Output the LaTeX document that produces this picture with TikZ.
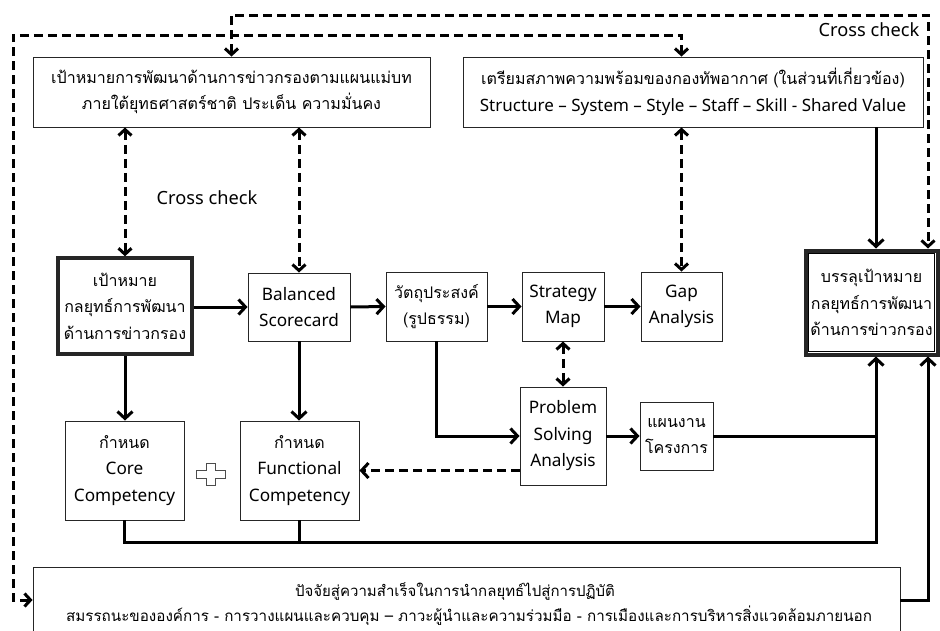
\documentclass[tikz,border=0pt]{standalone}
\usepackage{fontspec}
\setmainfont[Script=Thai]{Loma}
\newfontfamily\lat{Noto Sans}
\usetikzlibrary{arrows.meta,calc}
\begin{document}
\begin{tikzpicture}[x=1pt,y=-1pt,
  txt/.style={font=\fontsize{16}{26.5}\selectfont, align=center},
  ltxt/.style={font=\lat\fontsize{17.2}{26.5}\selectfont},
  box/.style={txt, draw=black!85, line width=0.9pt, inner sep=0pt},
  con/.style={line width=3pt, -{Straight Barb[length=7pt,width=15pt]}},
  plain/.style={line width=3pt},
  dsh/.style={line width=3pt, dash pattern=on 9pt off 5pt},
  dtip/.style={dsh, {Straight Barb[length=6pt,width=13pt]}-{Straight Barb[length=6pt,width=13pt]}}
]
\useasboundingbox (0,0) rectangle (940,630);
\clip (0,0) rectangle (940,630);
\fill[white] (0,0) rectangle (940,630);

% top boxes
\node[box, minimum width=397pt, minimum height=70pt] (tl) at (231.5,92)
  {เป้าหมายการพัฒนาด้านการข่าวกรองตามแผนแม่บท\\ภายใต้ยุทธศาสตร์ชาติ ประเด็น ความมั่นคง};
\node[box, minimum width=460pt, minimum height=70pt] (tr) at (693,92)
  {เตรียมสภาพความพร้อมของกองทัพอากาศ (ในส่วนที่เกี่ยวข้อง)\\{\lat\fontsize{17}{26.5}\selectfont Structure – System – Style – Staff – Skill - Shared Value}};

% middle row
\node[box, line width=3.4pt, minimum width=134pt, minimum height=96pt] (L) at (125,306)
  {เป้าหมาย\\กลยุทธ์การพัฒนา\\ด้านการข่าวกรอง};
\node[box, ltxt, minimum width=102pt, minimum height=68pt] (bsc) at (299,307) {Balanced\\Scorecard};
\node[box, minimum width=101pt, minimum height=69pt] (obj) at (436.5,306.5) {วัตถุประสงค์\\(รูปธรรม)};
\node[box, ltxt, minimum width=82pt, minimum height=69pt] (sm) at (563,306.5) {Strategy\\Map};
\node[box, ltxt, minimum width=81pt, minimum height=69pt] (gap) at (681.5,306.5) {Gap\\Analysis};
\node[box, line width=4pt, minimum width=132pt, minimum height=104pt] (R) at (871.5,302.5)
  {บรรลุเป้าหมาย\\กลยุทธ์การพัฒนา\\ด้านการข่าวกรอง};
\draw[line width=0.8pt] ($(R.north west)+(5,5)$) rectangle ($(R.south east)+(-5,-5)$);

% lower row
\node[box, ltxt, minimum width=86pt, minimum height=98pt] (ps) at (563,436) {Problem\\Solving\\Analysis};
\node[box, minimum width=73pt, minimum height=68pt] (plan) at (676.5,436) {แผนงาน\\โครงการ};
\node[box, minimum width=119pt, minimum height=99pt] (core) at (124.5,470.5)
  {กำหนด\\{\lat\fontsize{17.2}{26.5}\selectfont Core}\\{\lat\fontsize{17.2}{26.5}\selectfont Competency}};
\node[box, minimum width=119pt, minimum height=99pt] (func) at (299.5,470.5)
  {กำหนด\\{\lat\fontsize{17.2}{26.5}\selectfont Functional}\\{\lat\fontsize{17.2}{26.5}\selectfont Competency}};

% plus sign
\draw[black!70, line width=0.8pt, fill=white]
  (206,463) -- (215,463) -- (215,470) -- (225,470) -- (225,478) -- (215,478) -- (215,485)
  -- (206,485) -- (206,478) -- (196,478) -- (196,470) -- (206,470) -- cycle;

% bottom box
\node[box, minimum width=867pt, minimum height=90pt] (bot) at (466.5,612) {};
\node[txt, anchor=base, font=\fontsize{15}{26}\selectfont] (b1) at (455,596) {ปัจจัยสู่ความสำเร็จในการนำกลยุทธ์ไปสู่การปฏิบัติ};
\node[txt, anchor=base, font=\fontsize{15.2}{26}\selectfont] (b2) at (469,621) {สมรรถนะขององค์การ - การวางแผนและควบคุม – ภาวะผู้นำและความร่วมมือ - การเมืองและการบริหารสิ่งแวดล้อมภายนอก};

% labels
\node[txt, font=\lat\fontsize{18.2}{26}\selectfont] (cc1) at (207,198) {Cross check};
\node[txt, font=\lat\fontsize{18.2}{26}\selectfont] (cc2) at (869,30) {Cross check};

% coordinates on R
\coordinate (ra) at (876,0);
\coordinate (rb) at (928,0);
\coordinate (j) at (876,542);

% solid connectors
\draw[con] (L.east |- bsc.west) -- (bsc.west);
\draw[con] (bsc.east) -- (obj.west);
\draw[con] (obj.east) -- (sm.west);
\draw[con] (sm.east) -- (gap.west);
\draw[con] (L.south) -- (L.south |- core.north);
\draw[con] (bsc.south) -- (bsc.south |- func.north);
\draw[con] (obj.south) |- (ps.west);
\draw[con] (ps.east) -- (plan.west);
\draw[plain] (plan.east) -- (plan.east -| ra);
\draw[plain] (func.south) -- (func.south |- j);
\draw[con] (core.south) |- (j) -- (ra |- R.south);
\draw[con] (bot.east |- 0,600) -| (rb |- R.south);
\draw[con] (ra |- tr.south) -- (ra |- R.north);

% dashed connectors
\draw[dtip] (L.north |- tl.south) -- (L.north);
\draw[dtip] (bsc.north |- tl.south) -- (bsc.north);
\draw[dtip] (gap.north |- tr.south) -- (gap.north);
\draw[dtip] (sm.south) -- (ps.north);
\draw[dsh, -{Straight Barb[length=7pt,width=15pt]}] (ps.west |- func.east) -- (func.east);
\draw[dtip] (tl.north) -- (tl.north |- 0,15) -| (rb |- R.north);
\draw[dtip] (bot.west |- 0,600) -- (13,600) -- (13,35) -| (gap.north |- tr.north);
\end{tikzpicture}
\end{document}
